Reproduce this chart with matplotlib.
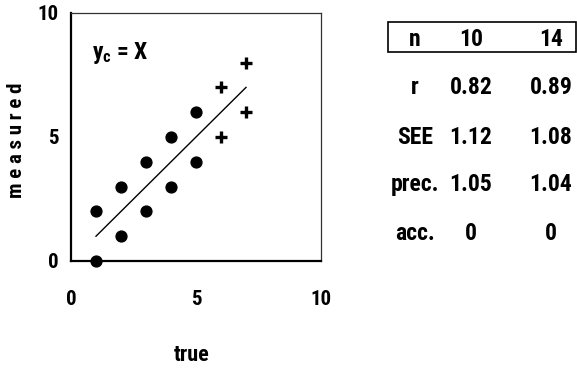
import matplotlib.pyplot as plt
import numpy as np
from matplotlib.patches import Rectangle

plt.rcParams['font.family'] = ['Roboto Condensed', 'DejaVu Sans']
plt.rcParams['font.weight'] = 'bold'
plt.rcParams['mathtext.fontset'] = 'custom'
plt.rcParams['mathtext.rm'] = 'Roboto Condensed:bold'
plt.rcParams['mathtext.it'] = 'Roboto Condensed:bold'

# calibration points, first 10 samples
true_dots = [1, 1, 2, 2, 3, 3, 4, 4, 5, 5]
meas_dots = [0, 2, 1, 3, 2, 4, 3, 5, 4, 6]
# 4 extra samples
true_plus = [6, 6, 7, 7]
meas_plus = [5, 7, 6, 8]
# calibration line y_c = x
line_x = [1, 7]

# summary table
row_labels = ['n', 'r', 'SEE', 'prec.', 'acc.']
col_10 = ['10', '0.82', '1.12', '1.05', '0']
col_14 = ['14', '0.89', '1.08', '1.04', '0']

fig = plt.figure(figsize=(5.77, 3.69), dpi=100)
ax = fig.add_axes([71/577, 1 - 261/369, 250/577, 248/369])

ax.plot(true_dots, meas_dots, 'o', color='black', ms=7.8, clip_on=False)
ax.plot(true_plus, meas_plus, '+', color='black', ms=8.5, mew=2.4, clip_on=False)
ax.plot(line_x, line_x, '-', color='black', lw=1)

ax.text(0.85, 8.4, r'$\mathrm{y_c}$ = X', fontsize=17, va='center', ha='left')

ax.set_xlim(0, 10)
ax.set_ylim(0, 10)
ax.set_xticks([0, 5, 10])
ax.set_yticks([0, 5, 10])
ax.tick_params(length=0, labelsize=15)
ax.tick_params(axis='x', pad=21)
ax.tick_params(axis='y', pad=9)
for s in ['left', 'bottom']:
    ax.spines[s].set_linewidth(1.6)
for s in ['top', 'right']:
    ax.spines[s].set_linewidth(0.9)
    ax.spines[s].set_color('#333333')

fig.text(17/577, 1 - 140/369, 'm e a s u r e d', rotation=90, ha='center', va='center', fontsize=15)
fig.text(192/577, 1 - 355/369, 'true', ha='center', va='center', fontsize=16)

# table on the right
row_y = [39, 88, 137, 185, 233]
for lab, a, b, y in zip(row_labels, col_10, col_14, row_y):
    yy = 1 - y / 369
    fig.text(415/577, yy, lab, ha='center', va='center', fontsize=17)
    fig.text(471/577, yy, a, ha='center', va='center', fontsize=17)
    fig.text(551/577, yy, b, ha='center', va='center', fontsize=17)

fig.patches.append(Rectangle((388/577, 1 - 52/369), 188/577, 30/369,
                             transform=fig.transFigure, fill=False, lw=1.2, ec='black'))

fig.savefig('out.png', dpi=100)
